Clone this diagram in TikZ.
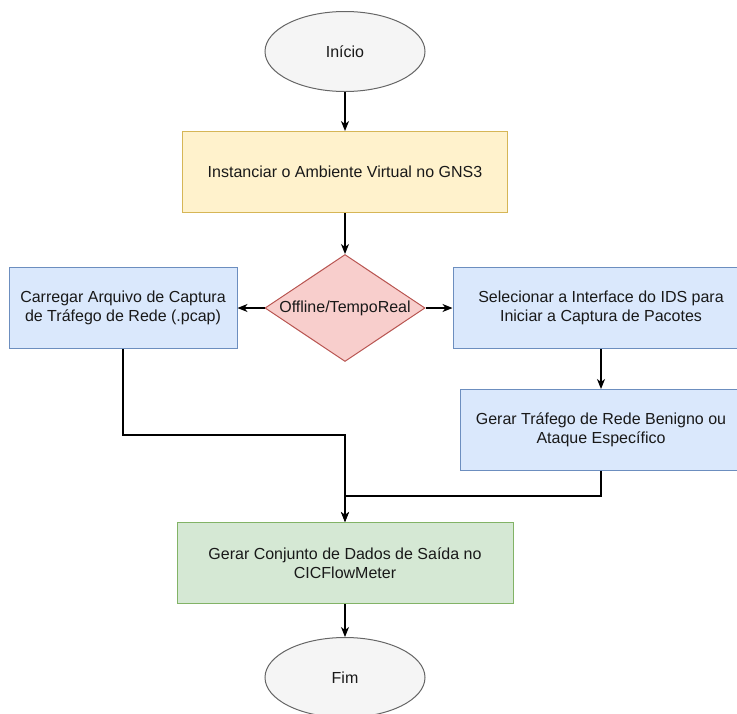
\documentclass[tikz,border=0pt]{standalone}
\usepackage{fontspec}
\setmainfont{Liberation Sans}
\definecolor{termfill}{HTML}{F5F5F5}
\definecolor{termdraw}{HTML}{666666}
\definecolor{yelfill}{HTML}{FFF2CC}
\definecolor{yeldraw}{HTML}{D6B656}
\definecolor{bluefill}{HTML}{DAE8FC}
\definecolor{bluedraw}{HTML}{6C8EBF}
\definecolor{redfill}{HTML}{F8CECC}
\definecolor{reddraw}{HTML}{B85450}
\definecolor{grnfill}{HTML}{D5E8D4}
\definecolor{grndraw}{HTML}{82B366}
\usetikzlibrary{arrows.meta, positioning, shapes.geometric}

\begin{document}
\begin{tikzpicture}[
    x=1pt, y=1pt,
    node distance=40pt and 27pt,
    every node/.style={font=\fontsize{16}{19.5}\selectfont, text=black!90},
    term/.style={ellipse, draw=termdraw, fill=termfill, line width=1pt,
                 minimum width=160pt, minimum height=80pt, inner sep=0pt},
    box/.style={rectangle, line width=1pt, minimum height=81pt, align=center, inner sep=2pt},
    ybox/.style={box, draw=yeldraw, fill=yelfill},
    bbox/.style={box, draw=bluedraw, fill=bluefill},
    gbox/.style={box, draw=grndraw, fill=grnfill},
    choice/.style={diamond, draw=reddraw, fill=redfill, line width=1pt, aspect=1.5,
                   minimum width=160pt, minimum height=107pt, inner sep=0pt},
    arr/.style={-{Stealth[length=10pt, width=8pt, inset=3pt]}, line width=1.2pt, black},
  ]
  \useasboundingbox (0,0) rectangle (737,-713);

  \node[term] (inicio) at (345,-51.5) {Início};
  \node[ybox, minimum width=325pt, below=39pt of inicio] (inst) {Instanciar o Ambiente Virtual no GNS3};
  \node[choice, below=41pt of inst] (dec) {Offline/TempoReal};
  \node[bbox, minimum width=228pt, left=of dec] (carregar) {Carregar Arquivo de Captura\\de Tráfego de Rede (.pcap)};
  \node[bbox, minimum width=296pt, right=of dec] (selec) {Selecionar a Interface do IDS para\\Iniciar a Captura de Pacotes};
  \node[bbox, minimum width=282pt, below=of selec] (trafego) {Gerar Tráfego de Rede Benigno ou\\Ataque Específico};
  \node[gbox, minimum width=336pt, below=160pt of dec] (saida) {Gerar Conjunto de Dados de Saída no\\CICFlowMeter};
  \node[term, below=33pt of saida] (fim) {Fim};

  \draw[arr] (inicio) -- (inst);
  \draw[arr] (inst) -- (dec);
  \draw[arr] (dec) -- (carregar);
  \draw[arr] (dec) -- (selec);
  \draw[arr] (selec) -- (trafego);

  % both branches join above the output box
  \draw[arr] (carregar.south) -- ++(0,-86) -| (saida.north);
  \draw[arr] (trafego.south) -- ++(0,-25) -| (saida.north);

  \draw[arr] (saida) -- (fim);
\end{tikzpicture}
\end{document}
